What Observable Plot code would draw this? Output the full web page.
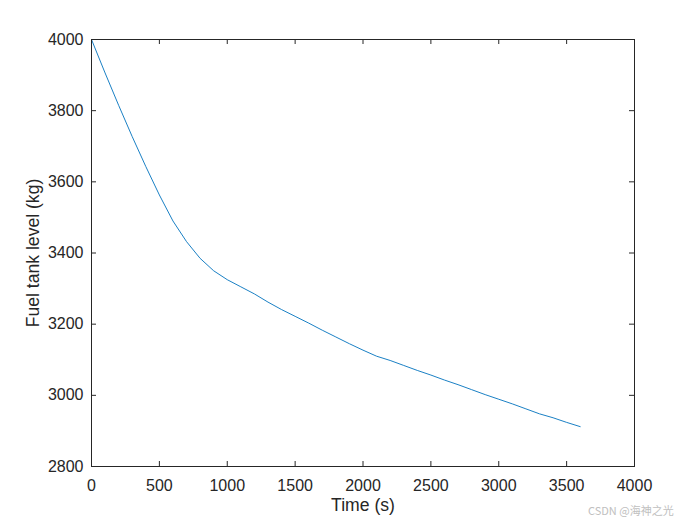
<!DOCTYPE html>
<html>
<head>
<meta charset="utf-8">
<script src="https://cdn.jsdelivr.net/npm/d3@7"></script>
<script src="https://cdn.jsdelivr.net/npm/@observablehq/plot@0.6"></script>
<style>
  html, body { margin: 0; padding: 0; background: #fff; }
  #wrap { position: relative; width: 700px; height: 525px; }
  #wm { position: absolute; left: 588px; top: 502px; font: 11px "Noto Sans CJK SC", "Liberation Sans", sans-serif; color: #c0c0c0; white-space: nowrap; }
</style>
</head>
<body>
<div id="wrap"><div id="chart"></div><div id="wm">CSDN @海神之光</div></div>
<script>
const timeS = [0,100,200,300,400,500,600,700,800,900,1000,1100,1200,1300,1400,1500,1600,1700,1800,1900,2000,2100,2200,2300,2400,2500,2600,2700,2800,2900,3000,3100,3200,3300,3400,3500,3600];
const fuelKg = [4000,3906,3815,3727,3643,3563,3490,3432,3385,3350,3325,3305,3285,3262,3241,3222,3203,3183,3164,3145,3127,3110,3098,3084,3070,3057,3043,3030,3016,3002,2989,2976,2962,2948,2937,2924,2912];
const xTicks = [0,500,1000,1500,2000,2500,3000,3500,4000];
const yTicks = [2800,3000,3200,3400,3600,3800,4000];
const xLabel = "Time (s)";
const yLabel = "Fuel tank level (kg)";

const data = timeS.map((t, i) => ({t, f: fuelKg[i]}));
const ink = "#262626";
const font = "Liberation Sans, Arial, sans-serif";

const chart = Plot.plot({
  width: 700, height: 525,
  marginLeft: 91, marginRight: 66, marginTop: 39, marginBottom: 59,
  style: {fontFamily: font, fontSize: "16px", color: ink, background: "white"},
  x: {domain: [0, 4000]},
  y: {domain: [2800, 4000]},
  marks: [
    Plot.axisX(xTicks, {tickSize: 0, tickPadding: 13, label: null, fill: ink, fontSize: 16, tickFormat: d => String(d)}),
    Plot.axisY(yTicks, {tickSize: 0, tickPadding: 8, label: null, fill: ink, fontSize: 16, tickFormat: d => String(d)}),
    // inward ticks on all four sides
    Plot.ruleX(xTicks, {x: d => d, insetTop: 422, stroke: ink, strokeWidth: 1}),
    Plot.ruleX(xTicks, {x: d => d, insetBottom: 422, stroke: ink, strokeWidth: 1}),
    Plot.ruleY(yTicks, {y: d => d, insetRight: 538, stroke: ink, strokeWidth: 1}),
    Plot.ruleY(yTicks, {y: d => d, insetLeft: 538, stroke: ink, strokeWidth: 1}),
    Plot.line(data, {x: "t", y: "f", stroke: "#0072BD", strokeWidth: 0.9}),
    Plot.frame({stroke: ink, strokeWidth: 1}),
    Plot.text([xLabel], {frameAnchor: "bottom", dy: 44, text: d => d, fontSize: 17.6, fill: ink, lineAnchor: "bottom"}),
    Plot.text([yLabel], {frameAnchor: "left", dx: -58, rotate: -90, textAnchor: "middle", text: d => d, fontSize: 17.6, fill: ink})
  ]
});
document.getElementById("chart").appendChild(chart);
</script>
</body>
</html>
